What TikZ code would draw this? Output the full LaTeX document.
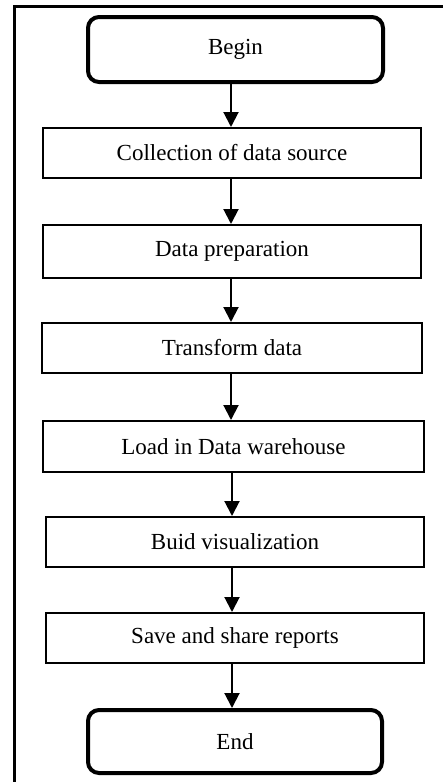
\documentclass[tikz,border=0pt]{standalone}
\usepackage{fontspec}
\setmainfont{Liberation Serif}
\usetikzlibrary{arrows.meta}
\begin{document}
\begin{tikzpicture}[x=1pt,y=-1pt,
  every node/.style={font=\fontsize{23}{27}\selectfont, inner sep=0pt},
  procbox/.style={draw, line width=2pt, rectangle},
  termbox/.style={draw, line width=4pt, rectangle, rounded corners=11pt},
  arr/.style={line width=2pt, -{Triangle[length=15pt,width=15pt]}},
  frameline/.style={line width=2.2pt}
]
\useasboundingbox (0,0) rectangle (443,782);
% frame (top and left edges)
\coordinate (ftop) at (443,6.5);
\coordinate (fcorner) at (14.5,6.5);
\coordinate (fbot) at (14.5,782);
\draw[frameline] (ftop) -- (fcorner) -- (fbot);
% nodes
\node[termbox, minimum width=295pt, minimum height=65pt] (begin) at (235.5,49.5) {Begin};
\node[procbox, minimum width=378pt, minimum height=50pt] (coll) at (232,153) {Collection of data source};
\node[procbox, minimum width=378pt, minimum height=53pt] (prep) at (232,251.5) {Data preparation};
\node[procbox, minimum width=380pt, minimum height=50pt] (trans) at (232,348) {Transform data};
\node[procbox, minimum width=381pt, minimum height=51pt] (load) at (233.5,446.5) {Load in Data warehouse};
\node[procbox, minimum width=378pt, minimum height=50pt] (viz) at (235,542) {Buid visualization};
\node[procbox, minimum width=378pt, minimum height=50pt] (save) at (235,638) {Save and share reports};
\node[termbox, minimum width=294pt, minimum height=63pt] (end) at (235,741.5) {End};
% arrows
\coordinate (ax) at (231,0);
\coordinate (bx) at (232,0);
\draw[arr] (begin.south -| ax) -- (coll.north -| ax);
\draw[arr] (coll.south -| ax) -- (prep.north -| ax);
\draw[arr] (prep.south -| ax) -- (trans.north -| ax);
\draw[arr] (trans.south -| ax) -- (load.north -| ax);
\draw[arr] (load.south -| bx) -- (viz.north -| bx);
\draw[arr] (viz.south -| bx) -- (save.north -| bx);
\draw[arr] (save.south -| bx) -- (end.north -| bx);
\end{tikzpicture}
\end{document}
